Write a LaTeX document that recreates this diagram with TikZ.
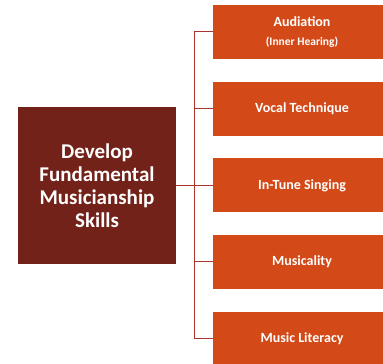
\documentclass[tikz,border=0pt]{standalone}
\usepackage{fontspec}
\setmainfont{Carlito}
\usepackage{tikz}
\pgfdeclarelayer{edgelayer}
\pgfdeclarelayer{nodelayer}
\pgfsetlayers{edgelayer,nodelayer,main}
\definecolor{goalred}{HTML}{722219}
\definecolor{skillorange}{HTML}{D34A18}
\definecolor{linkred}{HTML}{A8362C}
\tikzstyle{goal}=[rectangle,fill=goalred,text=white,font=\bfseries\fontsize{21}{23}\selectfont,align=center,minimum width=158pt,minimum height=157pt,inner sep=0pt]
\tikzstyle{skill}=[rectangle,fill=skillorange,text=white,font=\bfseries\fontsize{14}{17}\selectfont,align=center,minimum width=178pt,minimum height=54pt,inner sep=0pt]
\tikzstyle{link}=[draw=linkred,line width=1pt]

\begin{document}
\begin{tikzpicture}[x=1pt,y=1pt]
	\clip (0,0) rectangle (383,364);
	\begin{pgfonlayer}{nodelayer}
		\node [style=goal] (goal) at (97, 178.5) {Develop\\Fundamental\\Musicianship\\Skills};
		\node [style=skill] (s1) at (302, 332) {Audiation\\[2pt]{\fontsize{11.5}{13}\selectfont(Inner Hearing)}};
		\node [style=skill] (s2) at (302, 255) {Vocal Technique};
		\node [style=skill] (s3) at (302, 178.5) {In-Tune Singing};
		\node [style=skill] (s4) at (302, 102) {Musicality};
		\node [style=skill] (s5) at (302, 25) {Music Literacy};
		\coordinate (fork) at (194, 178.5);
	\end{pgfonlayer}
	\begin{pgfonlayer}{edgelayer}
		\draw [style=link] (goal.east) -- (fork);
		\draw [style=link] (fork) |- (s1.west);
		\draw [style=link] (fork) |- (s2.west);
		\draw [style=link] (fork) -- (s3.west);
		\draw [style=link] (fork) |- (s4.west);
		\draw [style=link] (fork) |- (s5.west);
	\end{pgfonlayer}
\end{tikzpicture}
\end{document}
